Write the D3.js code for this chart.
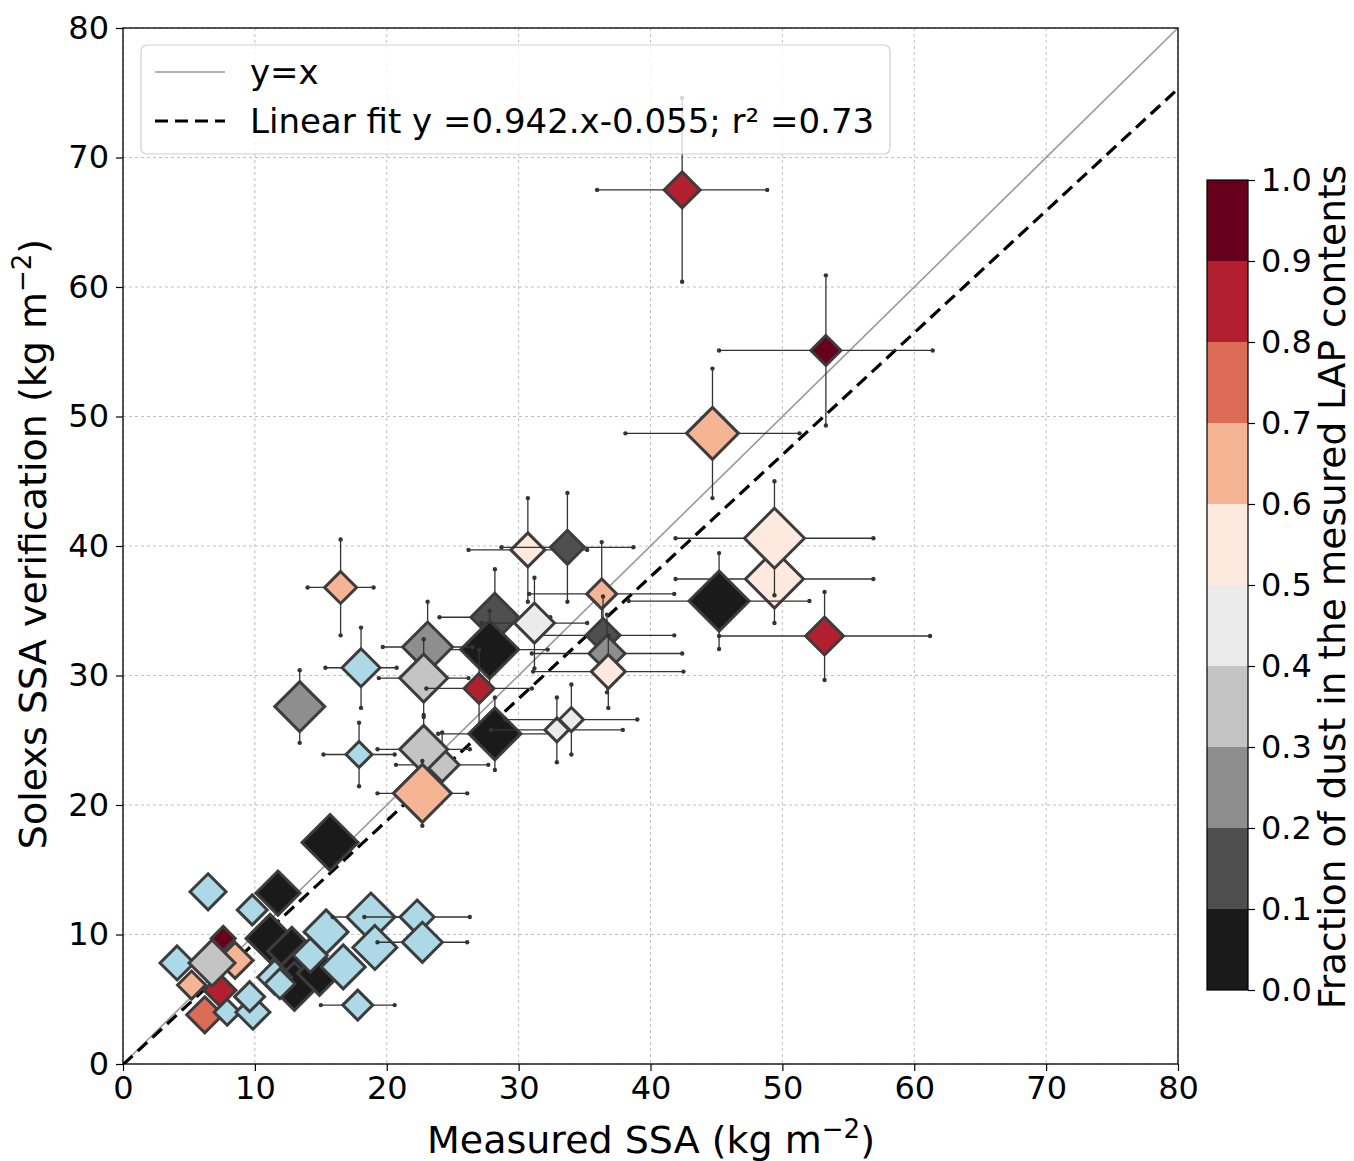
<!DOCTYPE html>
<html>
<head>
<meta charset="utf-8">
<script src="https://cdn.jsdelivr.net/npm/d3@7"></script>
<style>
  body { margin: 0; background: #fff; }
  text { font-family: "DejaVu Sans", sans-serif; fill: #000; }
</style>
</head>
<body>
<svg id="chart" width="1354" height="1161"></svg>
<script>
// Measured SSA vs Solexs SSA, coloured by fraction of dust in LAP content
const measured    = [53.2, 49.4, 49.4, 45.2, 44.7, 53.3, 42.4, 36.3, 30.7, 33.7, 36.4, 36.7, 36.8, 28.2, 27.8, 31.2, 23.1, 22.8, 27.0, 18.05, 16.5, 13.4, 17.9, 24.2, 22.8, 22.7, 28.2, 32.9, 34.0, 15.7,
                     11.75, 6.45, 9.8, 11.15, 12.8, 13.8, 13.0, 14.9, 15.4, 14.2, 16.7, 18.8, 19.1, 22.3, 22.7, 17.8,
                     6.2, 7.35, 5.2, 8.5, 7.6, 4.1, 6.75, 7.9, 9.85, 9.6, 11.5, 11.9];
const solexs      = [33.05, 37.45, 40.6, 35.75, 48.7, 55.1, 67.5, 36.3, 39.7, 39.9, 33.1, 31.7, 30.3, 34.5, 32.0, 34.05, 32.2, 29.8, 29.0, 30.6, 36.8, 27.6, 23.9, 23.1, 24.3, 20.9, 25.5, 25.8, 26.6, 17.1,
                     13.2, 13.3, 11.9, 9.7, 8.7, 7.6, 6.0, 7.0, 10.2, 8.4, 7.5, 11.35, 9.0, 11.35, 9.4, 4.55,
                     3.8, 5.7, 6.1, 8.0, 9.7, 7.8, 7.8, 4.0, 4.0, 5.2, 6.7, 6.2];
const measuredErr = [8.0, 7.5, 7.5, 6.85, 6.6, 8.1, 6.45, 5.5, 4.5, 5.0, 5.4, 5.7, 5.7, 4.2, 4.4, 4.0, 3.4, 3.4, 4.0, 2.7, 2.5, 1.2, 2.7, 3.5, 3.5, 3.4, 4.3, 5.0, 5.0, 1.0,
                     1.0, 0.8, 0.8, 1.0, 1.0, 1.0, 1.0, 1.0, 1.5, 1.0, 1.5, 2.9, 1.5, 4.0, 3.4, 2.8,
                     0.8, 0.8, 0.8, 0.8, 0.8, 0.8, 0.8, 0.8, 0.8, 0.8, 0.8, 0.8];
const solexsErr   = [3.4, 3.4, 4.4, 3.7, 5.0, 5.8, 7.1, 4.0, 4.0, 4.2, 3.0, 3.0, 2.8, 3.7, 3.0, 3.5, 3.5, 3.0, 3.0, 3.1, 3.7, 2.8, 2.45, 2.5, 2.65, 2.5, 2.8, 2.5, 2.7, 1.0,
                     1.0, 0.8, 0.8, 1.0, 1.0, 1.0, 1.0, 1.0, 1.0, 1.0, 1.0, 1.0, 1.0, 1.0, 1.0, 0.8,
                     0.8, 0.8, 0.8, 0.8, 0.8, 0.8, 0.8, 0.8, 0.8, 0.8, 0.8, 0.8];
// null = no dust fraction available
const dustFraction = [0.85, 0.55, 0.55, 0.05, 0.65, 0.95, 0.85, 0.65, 0.55, 0.15, 0.15, 0.25, 0.55, 0.15, 0.05, 0.45, 0.25, 0.35, 0.85, null, 0.65, 0.25, null, 0.35, 0.35, 0.65, 0.05, 0.45, 0.45, 0.05,
                      0.05, null, null, 0.05, 0.05, 0.05, 0.05, 0.05, null, null, null, null, null, null, null, null,
                      0.75, 0.85, 0.65, 0.65, 0.95, null, 0.35, null, null, null, null, null];
const markerArea  = [361, 841, 900, 900, 676, 225, 324, 225, 289, 289, 289, 324, 289, 576, 841, 400, 625, 576, 225, 361, 256, 625, 169, 289, 576, 841, 676, 144, 144, 784,
                     484, 324, 225, 576, 576, 576, 576, 484, 484, 289, 484, 576, 484, 289, 400, 225,
                     324, 256, 196, 324, 144, 289, 529, 169, 289, 225, 289, 225];

const fitSlope = 0.942, fitIntercept = -0.055;
const axisTicks = [0, 10, 20, 30, 40, 50, 60, 70, 80];
const cbarTicks = [0, 0.1, 0.2, 0.3, 0.4, 0.5, 0.6, 0.7, 0.8, 0.9, 1.0];
const binColors = ["#1a1a1a", "#4f4f4f", "#8e8e8e", "#c4c4c4", "#ebebeb", "#fee9df", "#f5b494", "#dc6c56", "#b2202f", "#67001f"];
const missingColor = "#add8e6";

const svg = d3.select("#chart");
svg.append("rect").attr("width", 1354).attr("height", 1161).attr("fill", "#fff");

const L = 123, R = 1178, T = 28, B = 1064;
const x = d3.scaleLinear().domain([0, 80]).range([L, R]);
const y = d3.scaleLinear().domain([0, 80]).range([B, T]);
const color = d3.scaleThreshold().domain(cbarTicks.slice(1, 10)).range(binColors);
const half = d3.scaleSqrt().domain([0, 900]).range([0, 30]);

// grid
const grid = svg.append("g").attr("stroke", "#b8b8b8").attr("stroke-width", 0.9).attr("stroke-dasharray", "3,3");
axisTicks.forEach(t => {
  grid.append("line").attr("x1", x(t)).attr("x2", x(t)).attr("y1", T).attr("y2", B);
  grid.append("line").attr("x1", L).attr("x2", R).attr("y1", y(t)).attr("y2", y(t));
});

const plot = svg.append("g");
svg.append("clipPath").attr("id", "clip").append("rect")
  .attr("x", L).attr("y", T).attr("width", R - L).attr("height", B - T);
plot.attr("clip-path", "url(#clip)");

// 1:1 line and linear fit
plot.append("line").attr("x1", x(0)).attr("y1", y(0)).attr("x2", x(80)).attr("y2", y(80))
  .attr("stroke", "#999").attr("stroke-width", 1.6);
plot.append("line").attr("x1", x(0)).attr("y1", y(fitIntercept)).attr("x2", x(80)).attr("y2", y(fitSlope * 80 + fitIntercept))
  .attr("stroke", "#000").attr("stroke-width", 3.2).attr("stroke-dasharray", "13,7");

// points with error bars
const pts = measured.map((m, i) => ({ m, s: solexs[i], me: measuredErr[i], se: solexsErr[i], f: dustFraction[i], a: markerArea[i] }));
pts.forEach(p => {
  const g = plot.append("g");
  const cx = x(p.m), cy = y(p.s);
  const bar = g.append("g").attr("stroke", "#333").attr("stroke-width", 1.3);
  bar.append("line").attr("x1", x(p.m - p.me)).attr("x2", x(p.m + p.me)).attr("y1", cy).attr("y2", cy);
  bar.append("line").attr("x1", cx).attr("x2", cx).attr("y1", y(p.s - p.se)).attr("y2", y(p.s + p.se));
  [[x(p.m - p.me), cy], [x(p.m + p.me), cy], [cx, y(p.s - p.se)], [cx, y(p.s + p.se)]].forEach(([a, b]) => {
    g.append("circle").attr("cx", a).attr("cy", b).attr("r", 2.2).attr("fill", "#333");
  });
  const h = half(p.a);
  g.append("path")
    .attr("d", `M${cx},${cy - h}L${cx + h},${cy}L${cx},${cy + h}L${cx - h},${cy}Z`)
    .attr("fill", p.f == null ? missingColor : color(p.f))
    .attr("stroke", "#3c3c3c").attr("stroke-width", 3).attr("stroke-linejoin", "miter");
});

// axes frame
svg.append("rect").attr("x", L).attr("y", T).attr("width", R - L).attr("height", B - T)
  .attr("fill", "none").attr("stroke", "#000").attr("stroke-width", 1.3);

const tickFs = 32, titleFs = 38, legendFs = 34;
const xAxis = svg.append("g").attr("transform", `translate(0,${B})`)
  .call(d3.axisBottom(x).tickValues(axisTicks).tickSize(7).tickPadding(5).tickFormat(d3.format("d")));
const yAxis = svg.append("g").attr("transform", `translate(${L},0)`)
  .call(d3.axisLeft(y).tickValues(axisTicks).tickSize(7).tickPadding(7).tickFormat(d3.format("d")));
[xAxis, yAxis].forEach(a => {
  a.select(".domain").remove();
  a.selectAll("line").attr("stroke", "#000").attr("stroke-width", 1.2);
  a.selectAll("text").attr("font-size", tickFs).attr("font-family", "DejaVu Sans");
});

// axis titles
const xt = svg.append("text").attr("x", 651).attr("y", 1153).attr("text-anchor", "middle").attr("font-size", titleFs);
xt.append("tspan").text("Measured SSA (kg m");
xt.append("tspan").attr("baseline-shift", "super").attr("font-size", 26).text("\u22122");
xt.append("tspan").text(")");

const yt = svg.append("text").attr("transform", "translate(46,544) rotate(-90)").attr("text-anchor", "middle").attr("font-size", titleFs);
yt.append("tspan").text("Solexs SSA verification (kg m");
yt.append("tspan").attr("baseline-shift", "super").attr("font-size", 26).text("\u22122");
yt.append("tspan").text(")");

// legend
const lg = svg.append("g");
lg.append("rect").attr("x", 141).attr("y", 45).attr("width", 749).attr("height", 109).attr("rx", 6)
  .attr("fill", "#fff").attr("fill-opacity", 0.8).attr("stroke", "#d0d0d0").attr("stroke-width", 1.2);
lg.append("line").attr("x1", 155).attr("x2", 225).attr("y1", 72).attr("y2", 72).attr("stroke", "#999").attr("stroke-width", 1.6);
lg.append("text").attr("x", 250).attr("y", 84).attr("font-size", legendFs).text("y=x");
lg.append("line").attr("x1", 155).attr("x2", 225).attr("y1", 121).attr("y2", 121).attr("stroke", "#000").attr("stroke-width", 3.2).attr("stroke-dasharray", "13,7");
lg.append("text").attr("x", 250).attr("y", 133).attr("font-size", legendFs)
  .text(`Linear fit y =${fitSlope}.x${fitIntercept}; r\u00b2 =0.73`);

// colorbar
const cbX = 1207, cbW = 41, cbTop = 180, cbBot = 990;
const cby = d3.scaleLinear().domain([0, 1]).range([cbBot, cbTop]);
const cb = svg.append("g");
binColors.forEach((c, i) => {
  cb.append("rect").attr("x", cbX).attr("y", cby(cbarTicks[i + 1])).attr("width", cbW)
    .attr("height", cby(cbarTicks[i]) - cby(cbarTicks[i + 1])).attr("fill", c);
});
cb.append("rect").attr("x", cbX).attr("y", cbTop).attr("width", cbW).attr("height", cbBot - cbTop)
  .attr("fill", "none").attr("stroke", "#000").attr("stroke-width", 1.2);
const cbAxis = svg.append("g").attr("transform", `translate(${cbX + cbW},0)`)
  .call(d3.axisRight(cby).tickValues(cbarTicks).tickSize(7).tickPadding(6).tickFormat(d3.format(".1f")));
cbAxis.select(".domain").remove();
cbAxis.selectAll("line").attr("stroke", "#000").attr("stroke-width", 1.2);
cbAxis.selectAll("text").attr("font-size", tickFs).attr("font-family", "DejaVu Sans");

svg.append("text").attr("transform", "translate(1345,587) rotate(-90)").attr("text-anchor", "middle").attr("font-size", 37.5)
  .text("Fraction of dust in the mesured LAP contents");
</script>
</body>
</html>
